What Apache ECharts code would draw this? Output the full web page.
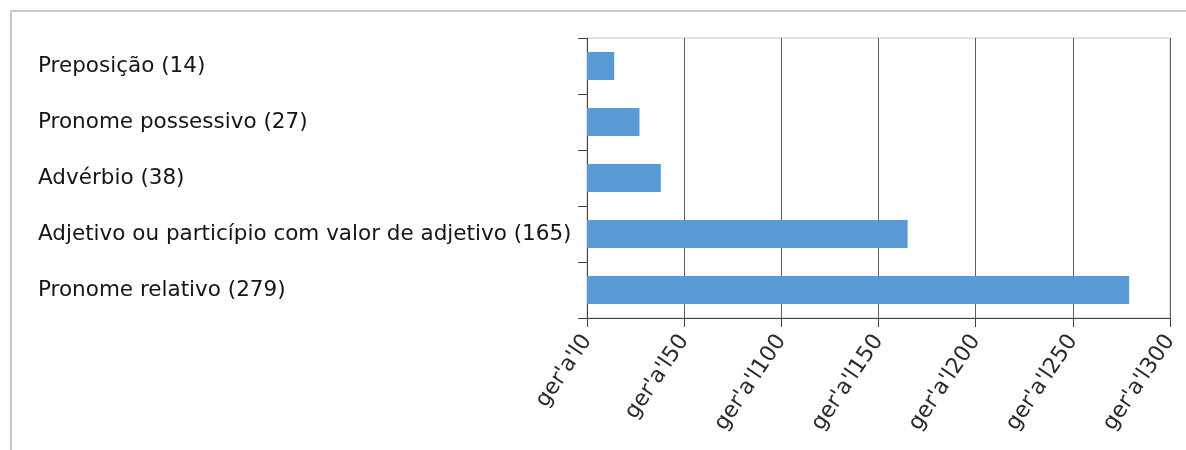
<!DOCTYPE html>
<html>
<head>
<meta charset="utf-8">
<title>Classes de palavras</title>
<script src="https://cdn.jsdelivr.net/npm/echarts@6/dist/echarts.min.js"></script>
<style>
  html, body { margin: 0; padding: 0; background: #fff; }
  #main { width: 1186px; height: 450px; }
</style>
</head>
<body>
<div id="main"></div>
<script>
// categorias (de cima para baixo) e contagens
const categories = [
  'Preposição',
  'Pronome possessivo',
  'Advérbio',
  'Adjetivo ou particípio com valor de adjetivo',
  'Pronome relativo'
];
const counts = [14, 27, 38, 165, 279];
const tickPrefix = "ger'a'l";   // prefixo que aparece em cada rótulo do eixo x

const chart = echarts.init(document.getElementById('main'), null, {renderer: 'canvas'});

const option = {
  backgroundColor: '#ffffff',
  animation: false,
  graphic: [
    {
      // moldura externa (só topo e esquerda aparecem)
      type: 'rect',
      silent: true,
      shape: {x: 11, y: 11, width: 1400, height: 800},
      style: {fill: 'none', stroke: '#c8c8c8', lineWidth: 2}
    }
  ],
  grid: {
    left: 587,
    right: 16,
    top: 38,
    bottom: 132,
    show: true,
    borderColor: '#c4c4c4',
    borderWidth: 1,
    backgroundColor: 'transparent'
  },
  xAxis: {
    type: 'value',
    min: 0,
    max: 300,
    interval: 50,
    axisLine: {show: true, lineStyle: {color: '#404040', width: 1}},
    axisTick: {show: true, length: 9, lineStyle: {color: '#404040'}},
    splitLine: {show: true, lineStyle: {color: '#5e5e5e', width: 1}},
    axisLabel: {
      rotate: 56,
      margin: 19,
      color: '#2a2a2a',
      fontFamily: 'DejaVu Sans',
      fontSize: 22,
      formatter: v => tickPrefix + v
    }
  },
  yAxis: {
    type: 'category',
    inverse: true,
    data: categories,
    axisLine: {show: true, lineStyle: {color: '#404040', width: 1}},
    axisTick: {show: true, length: 9, lineStyle: {color: '#404040'}},
    axisLabel: {
      align: 'left',
      margin: 549,
      color: '#151515',
      fontFamily: 'DejaVu Sans',
      fontSize: 21.5,
      formatter: (name, i) => name + ' (' + counts[i] + ')'
    }
  },
  series: [
    {
      type: 'bar',
      data: counts,
      barWidth: 28,
      itemStyle: {color: '#5b9bd5'}
    }
  ]
};

chart.setOption(option);
</script>
</body>
</html>
